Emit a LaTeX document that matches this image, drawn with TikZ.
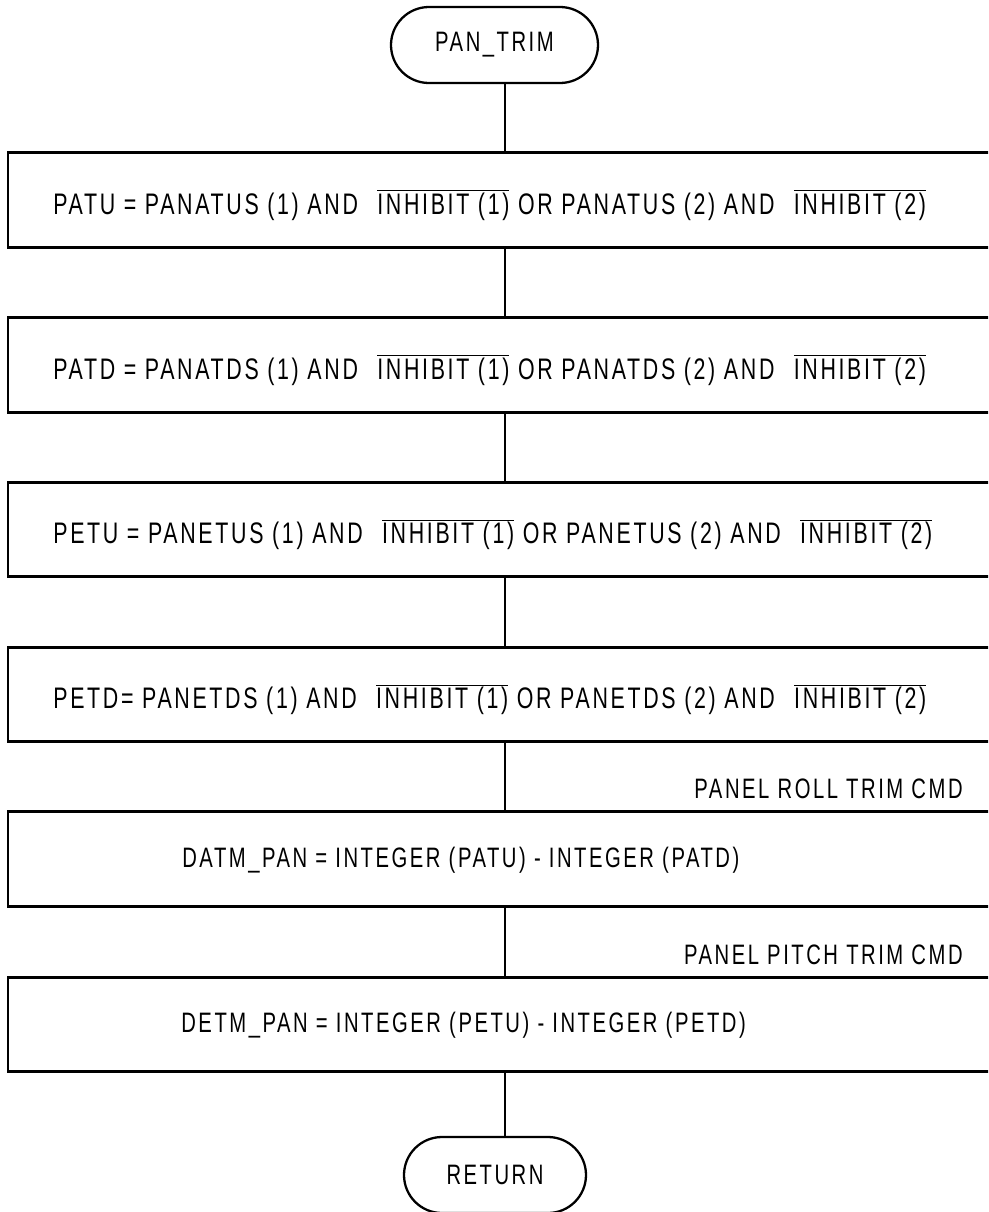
\documentclass[tikz,border=0pt]{standalone}
\usepackage{fontspec}
\setmainfont[FakeStretch=0.72,LetterSpace=9]{Liberation Sans}
\usetikzlibrary{positioning,shapes.misc}

\newcommand{\inv}[1]{\hspace{0.65em}$\overline{\mbox{#1}}$}

\begin{document}
\begin{tikzpicture}[
    every node/.style={font=\fontsize{16}{18}\selectfont},
    term/.style={draw, rounded rectangle, line width=1.3pt, minimum height=1.52cm, inner sep=0pt},
    stepbox/.style={draw, rectangle, line width=1.6pt, minimum width=19.88cm, minimum height=1.89cm},
    cmdtxt/.style={anchor=west, inner sep=0pt},
    longtxt/.style={cmdtxt, font=\fontsize{16.9}{18}\selectfont},
    lbl/.style={anchor=base east, inner sep=0pt},
    flow/.style={line width=1.2pt}
  ]
  \useasboundingbox (0,0) rectangle (19.76,-24.24);
  \clip (0,0) rectangle (19.76,-24.24);

  % ---- entree --------------------------------------------------------
  \node[term, minimum width=4.14cm] (start) at (9.89,-0.9) {PAN\_TRIM};

  % ---- blocs de calcul -----------------------------------------------
  \node[stepbox] (b1) at (10.1,-4.0) {};
  \node[stepbox] (b2) at (10.1,-7.3) {};
  \node[stepbox] (b3) at (10.1,-10.59) {};
  \node[stepbox] (b4) at (10.1,-13.89) {};
  \node[stepbox] (b5) at (10.1,-17.18) {};
  \node[stepbox] (b6) at (10.1,-20.49) {};

  \node[longtxt] (t1) at (1.06,-4.1)
    {PATU = PANATUS (1) AND\inv{INHIBIT (1)} OR PANATUS (2) AND\inv{INHIBIT (2)}};
  \node[longtxt] (t2) at (1.06,-7.4)
    {PATD = PANATDS (1) AND\inv{INHIBIT (1)} OR PANATDS (2) AND\inv{INHIBIT (2)}};
  \node[longtxt] (t3) at (1.06,-10.69)
    {PETU = PANETUS (1) AND\inv{INHIBIT (1)} OR PANETUS (2) AND\inv{INHIBIT (2)}};
  \node[longtxt] (t4) at (1.06,-13.99)
    {PETD= PANETDS (1) AND\inv{INHIBIT (1)} OR PANETDS (2) AND\inv{INHIBIT (2)}};
  \node[cmdtxt] (t5) at (3.64,-17.2) {DATM\_PAN = INTEGER (PATU) - INTEGER (PATD)};
  \node[cmdtxt] (t6) at (3.62,-20.51) {DETM\_PAN = INTEGER (PETU) - INTEGER (PETD)};

  % ---- etiquettes des commandes --------------------------------------
  \node[lbl] (l5) at (19.26,-15.96) {PANEL ROLL TRIM CMD};
  \node[lbl] (l6) at (19.26,-19.28) {PANEL PITCH TRIM CMD};

  % ---- sortie --------------------------------------------------------
  \node[term, minimum width=3.64cm] (ret) at (9.9,-23.5) {RETURN};

  % ---- liaisons ------------------------------------------------------
  \draw[flow] (b1.north |- start.south) -- (b1.north);
  \draw[flow] (b1) -- (b2);
  \draw[flow] (b2) -- (b3);
  \draw[flow] (b3) -- (b4);
  \draw[flow] (b4) -- (b5);
  \draw[flow] (b5) -- (b6);
  \draw[flow] (b6.south) -- (b6.south |- ret.north);

\end{tikzpicture}
\end{document}
